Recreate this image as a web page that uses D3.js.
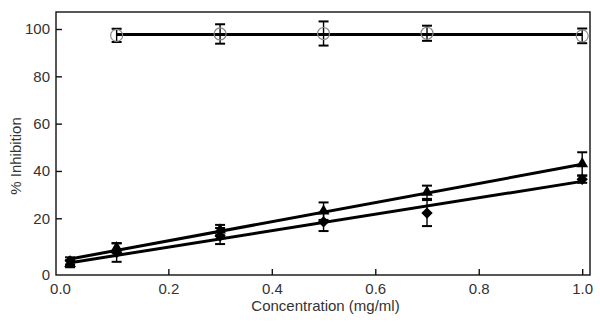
<!DOCTYPE html>
<html><head><meta charset="utf-8">
<script src="https://cdn.jsdelivr.net/npm/d3@7"></script>
<style>
html,body{margin:0;padding:0;background:#fff;}
svg{display:block;}
text{font-family:"Liberation Sans",Arial,Helvetica,sans-serif;}
</style></head>
<body>
<svg id="c" width="600" height="322"></svg>
<script>
// ---- data ----
const conc = [0.01, 0.1, 0.3, 0.5, 0.7, 1.0];
const circleVals = [null, 97.3, 97.9, 98.1, 98.2, 97.1];
const circleErr  = [null, 2.8, 4.1, 5.1, 3.2, 3.1];
const triVals = [0.8, 7.5, 15.0, 23.0, 31.0, 43.0];
const triErr  = [1.5, 2.0, 2.2, 3.7, 2.8, 4.9];
const diaVals = [2.0, 5.5, 12.5, 18.5, 22.2, 36.5];
const diaErr  = [1.5, 3.9, 3.4, 3.9, 5.5, 1.5];
const fitCircleX = [0.1, 1.0], fitCircleY = [97.7, 97.7];
const fitTriX = [0.01, 1.0], fitTriY = [2.8, 42.8];
const fitDiaX = [0.01, 1.0], fitDiaY = [1.2, 35.6];
const xTicks = [0, 0.2, 0.4, 0.6, 0.8, 1.0];
const yTicks = [0, 20, 40, 60, 80, 100];
const xTitle = "Concentration (mg/ml)";
const yTitle = "% Inhibition";

// ---- layout ----
const frame = {left: 56, right: 590, top: 12, bottom: 275};
const x = d3.scaleLinear().domain([0, 1]).range([64.9, 582.2]);
const y = d3.scaleLinear().domain([0, 100]).range([265.6, 29]);
const svg = d3.select("#c");
const txt = "#333";

// frame
svg.append("rect").attr("x", frame.left).attr("y", frame.top)
  .attr("width", frame.right - frame.left).attr("height", frame.bottom - frame.top)
  .attr("fill", "none").attr("stroke", "#111").attr("stroke-width", 1.4);

// axes
const xAxis = svg.append("g").attr("transform", `translate(0,${frame.bottom})`)
  .call(d3.axisBottom(x).tickValues(xTicks).tickFormat(d3.format(".1f"))
    .tickSizeInner(-6).tickSizeOuter(0).tickPadding(8));
const yAxis = svg.append("g").attr("transform", `translate(${frame.left},0)`)
  .call(d3.axisLeft(y).tickValues(yTicks).tickFormat(d3.format("d"))
    .tickSizeInner(-6).tickSizeOuter(0).tickPadding(6));
[xAxis, yAxis].forEach(g => {
  g.select(".domain").remove();
  g.selectAll(".tick line").attr("stroke", "#111").attr("stroke-width", 1.4);
  g.selectAll(".tick text").attr("fill", txt).style("font-size", "15px")
    .style("font-family", '"Liberation Sans",Arial,sans-serif');
  g.selectAll(".tick").filter(d => d === 0).select("line").remove();
});
// origin labels sit at the frame corner
xAxis.selectAll(".tick").filter(d => d === 0).select("text").attr("x", frame.left + 4 - x(0));
yAxis.selectAll(".tick").filter(d => d === 0).select("text").attr("dy", (frame.bottom - y(0)) + 5 + "px");
yAxis.selectAll(".tick text").attr("x", -6);
yAxis.selectAll(".tick line").attr("x2", 6);
xAxis.selectAll(".tick line").attr("y2", -6);

// titles
svg.append("text").attr("x", 325.5).attr("y", 311).attr("text-anchor", "middle")
  .attr("fill", txt).style("font-size", "15px").text(xTitle);
svg.append("text").attr("transform", "translate(21,156) rotate(-90)")
  .attr("text-anchor", "middle").attr("fill", txt).style("font-size", "15px").text(yTitle);

// fit lines
const line = d3.line().x(d => x(d[0])).y(d => y(d[1]));
[[fitCircleX, fitCircleY], [fitTriX, fitTriY], [fitDiaX, fitDiaY]].forEach(([xs, ys]) => {
  svg.append("path").datum(xs.map((v, i) => [v, ys[i]]))
    .attr("d", line).attr("fill", "none").attr("stroke", "#000").attr("stroke-width", 3);
});

// error bars
function errBars(vals, errs) {
  const data = conc.map((c, i) => ({c, v: vals[i], e: errs[i]})).filter(d => d.v != null);
  const g = svg.append("g").attr("stroke", "#000");
  data.forEach(d => {
    const cx = x(d.c);
    g.append("line").attr("x1", cx).attr("x2", cx).attr("y1", y(d.v - d.e)).attr("y2", y(d.v + d.e)).attr("stroke-width", 1.4);
    [d.v - d.e, d.v + d.e].forEach(v => {
      g.append("line").attr("x1", cx - 5).attr("x2", cx + 5).attr("y1", y(v)).attr("y2", y(v)).attr("stroke-width", 2);
    });
  });
  return data;
}
const cData = errBars(circleVals, circleErr);
const tData = errBars(triVals, triErr);
const dData = errBars(diaVals, diaErr);

// markers
svg.append("g").selectAll("circle").data(cData).join("circle")
  .attr("cx", d => x(d.c)).attr("cy", d => y(d.v)).attr("r", 6)
  .attr("fill", "none").attr("stroke", "#888").attr("stroke-width", 1.2);
svg.append("g").selectAll("path").data(tData).join("path")
  .attr("transform", d => `translate(${x(d.c)},${y(d.v)})`)
  .attr("d", d3.symbol(d3.symbolTriangle, 60)).attr("fill", "#000");
svg.append("g").selectAll("path").data(dData).join("path")
  .attr("transform", d => `translate(${x(d.c)},${y(d.v)}) rotate(45)`)
  .attr("d", d3.symbol(d3.symbolSquare, 64)).attr("fill", "#000");
</script>
</body></html>
